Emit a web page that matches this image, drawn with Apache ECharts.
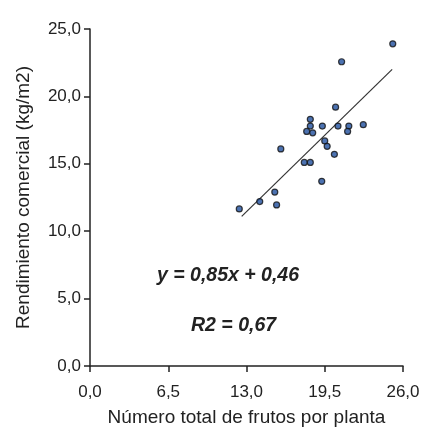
<!DOCTYPE html>
<html>
<head>
<meta charset="utf-8">
<script src="https://cdn.jsdelivr.net/npm/echarts@6/dist/echarts.min.js"></script>
<style>html,body{margin:0;padding:0;background:#fff;}#c{width:425px;height:428px;}</style>
</head>
<body>
<div id="c"></div>
<script>
// Data
const frutos = [25.15, 20.9, 20.4, 18.3, 18.3, 19.3, 20.6, 21.5, 22.7, 18.0, 18.5, 21.4, 19.5, 19.7, 20.3, 15.85, 17.8, 18.3, 19.25, 15.35, 14.1, 15.5, 12.4];
const rendimiento = [23.9, 22.57, 19.2, 18.3, 17.8, 17.8, 17.8, 17.8, 17.9, 17.4, 17.3, 17.4, 16.7, 16.3, 15.7, 16.1, 15.1, 15.1, 13.7, 12.9, 12.2, 11.95, 11.65];
const trendX = [12.6, 25.1];
const trendY = [11.1, 22.0];
const equationText = 'y = 0,85x + 0,46';
const r2Text = 'R2 = 0,67';
const xTitle = 'Número total de frutos por planta';
const yTitle = 'Rendimiento comercial (kg/m2)';

const fmt = v => v.toFixed(1).replace('.', ',');
const font = 'Liberation Sans, Arial, sans-serif';
const chart = echarts.init(document.getElementById('c'));
chart.setOption({
  animation: false,
  grid: { left: 90, right: 22, top: 29, bottom: 62, containLabel: false, outerBoundsMode: 'none' },
  xAxis: {
    type: 'value', min: 0, max: 26, interval: 6.5,
    name: xTitle, nameLocation: 'middle', nameGap: 42,
    nameTextStyle: { fontFamily: font, fontSize: 19, color: '#222' },
    axisLine: { lineStyle: { color: '#222', width: 1.5 } },
    axisTick: { show: true, length: 6, lineStyle: { color: '#222', width: 1.5 } },
    axisLabel: { formatter: fmt, fontFamily: font, fontSize: 17, color: '#222', margin: 18 },
    splitLine: { show: false }
  },
  yAxis: {
    type: 'value', min: 0, max: 25, interval: 5,
    name: yTitle, nameLocation: 'middle', nameGap: 57,
    nameTextStyle: { fontFamily: font, fontSize: 19, color: '#222' },
    axisLine: { show: true, lineStyle: { color: '#222', width: 1.5 } },
    axisTick: { show: true, length: 6, lineStyle: { color: '#222', width: 1.5 } },
    axisLabel: { formatter: fmt, fontFamily: font, fontSize: 17, color: '#222', margin: 9 },
    splitLine: { show: false }
  },
  series: [
    {
      type: 'line',
      data: trendX.map((x, i) => [x, trendY[i]]),
      symbol: 'none',
      lineStyle: { color: '#333', width: 1.2 },
      z: 1
    },
    {
      type: 'scatter',
      data: frutos.map((x, i) => [x, rendimiento[i]]),
      symbol: 'circle',
      symbolSize: 6,
      itemStyle: { color: '#1f4f9e', borderColor: '#111', borderWidth: 1.2 },
      z: 2
    }
  ],
  graphic: [
    { type: 'text', left: 157, top: 266, style: { text: equationText, font: 'italic bold 19.5px ' + font, fill: '#222' } },
    { type: 'text', left: 191, top: 316, style: { text: r2Text, font: 'italic bold 19.5px ' + font, fill: '#222' } }
  ]
});
</script>
</body>
</html>
